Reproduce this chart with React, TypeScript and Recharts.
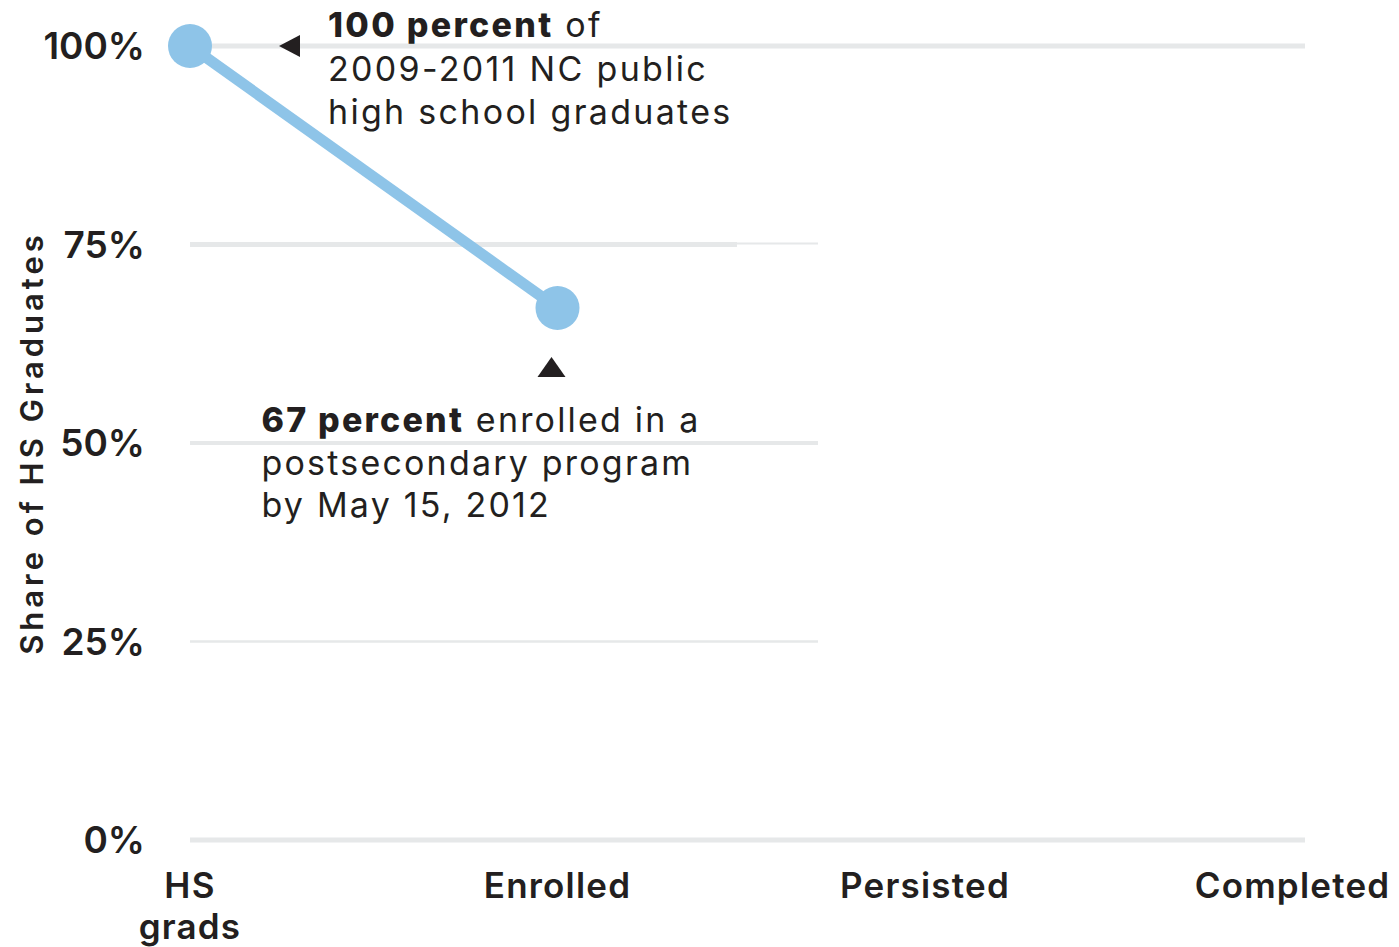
import React from 'react'
import { LineChart, Line, XAxis, YAxis, ReferenceLine, ReferenceDot } from 'recharts'

const stages = ['HS grads', 'Enrolled', 'Persisted', 'Completed']
const shareOfGrads = [100, 67, null, null]
const yTicks = [0, 25, 50, 75, 100]

const data = stages.map((stage, i) => ({ stage, share: shareOfGrads[i] }))

const FONT = 'Inter, "Open Sans", sans-serif'
const INK = '#231f20'
const BLUE = '#8ec4e8'
const GRID = '#e6e8e9'

const StageTick = (props: any) => {
  const { x, y, payload } = props
  const words = String(payload.value).split(' ')
  return (
    <text x={x} y={y} textAnchor="middle" fill={INK} fontFamily={FONT} fontSize={35} fontWeight={600} letterSpacing={1.2}>
      {words.map((w, i) => (
        <tspan key={w} x={x} dy={i === 0 ? 50 : 41}>
          {w}
        </tspan>
      ))}
    </text>
  )
}

// gridlines only run part of the way across for the middle levels
const gridShape = (level: number) => (p: any) => {
  const { x1, x2, y1 } = p
  if (level === 0 || level === 100) {
    return <line x1={x1} x2={x2} y1={y1} y2={y1} stroke={GRID} strokeWidth={5} />
  }
  if (level === 75) {
    return (
      <g>
        <line x1={x1} x2={x1 + 547} y1={y1} y2={y1} stroke={GRID} strokeWidth={5} />
        <line x1={x1 + 547} x2={x1 + 628} y1={y1 - 1} y2={y1 - 1} stroke={GRID} strokeWidth={2} />
      </g>
    )
  }
  return <line x1={x1} x2={x1 + 628} y1={y1} y2={y1} stroke={GRID} strokeWidth={level === 25 ? 2.5 : 4} />
}

const TopNote = (p: any) => {
  const { cx, cy } = p
  return (
    <g fontFamily={FONT} fill={INK} fontSize={34} letterSpacing={2.3}>
      <path d={`M${cx + 89},${cy} L${cx + 110},${cy - 11} L${cx + 110},${cy + 11} Z`} fill={INK} />
      <text x={cx + 138} y={cy - 9}>
        <tspan fontWeight={800}>100 percent</tspan> of
      </text>
      <text x={cx + 138} y={cy + 35}>2009-2011 NC public</text>
      <text x={cx + 138} y={cy + 78}>high school graduates</text>
    </g>
  )
}

const EnrolledNote = (p: any) => {
  const { cx, cy } = p
  return (
    <g fontFamily={FONT} fill={INK} fontSize={34} letterSpacing={2.2}>
      <path d={`M${cx - 6},${cy + 49} L${cx + 8},${cy + 69} L${cx - 20},${cy + 69} Z`} fill={INK} />
      <text x={cx - 296} y={cy + 124}>
        <tspan fontWeight={800}>67 percent</tspan> enrolled in a
      </text>
      <text x={cx - 296} y={cy + 167}>postsecondary program</text>
      <text x={cx - 296} y={cy + 209}>by May 15, 2012</text>
    </g>
  )
}

const YTitle = (p: any) => {
  const vb = p.viewBox
  const cx = vb.x + 43
  const cy = vb.y + vb.height / 2
  return (
    <text
      transform={`translate(${cx},${cy}) rotate(-90)`}
      textAnchor="middle"
      fill={INK}
      fontFamily={FONT}
      fontSize={31}
      fontWeight={600}
      letterSpacing={4}
    >
      Share of HS Graduates
    </text>
  )
}

export default function App() {
  return (
    <div style={{ width: 1399, height: 947, margin: '-8px 0 0 -8px' }}>
      <LineChart width={1399} height={947} data={data} margin={{ top: 46, right: 94, left: 0, bottom: 7 }}>
        {yTicks.map((v) => (
          <ReferenceLine key={v} y={v} shape={gridShape(v)} />
        ))}
        <XAxis
          dataKey="stage"
          axisLine={false}
          tickLine={false}
          interval={0}
          height={100}
          padding={{ left: 0, right: 12.5 }}
          tick={<StageTick />}
        />
        <YAxis
          domain={[0, 100]}
          ticks={yTicks}
          width={190}
          axisLine={false}
          tickLine={false}
          tickMargin={39}
          tickFormatter={(v) => `${v}%`}
          tick={{ fill: INK, fontFamily: FONT, fontSize: 37, fontWeight: 600 }}
          label={{ content: <YTitle /> }}
        />
        <Line
          dataKey="share"
          stroke={BLUE}
          strokeWidth={11}
          dot={{ r: 22, fill: BLUE, strokeWidth: 0 }}
          activeDot={false}
          isAnimationActive={false}
        />
        <ReferenceDot x="HS grads" y={100} shape={TopNote} />
        <ReferenceDot x="Enrolled" y={67} shape={EnrolledNote} />
      </LineChart>
    </div>
  )
}
